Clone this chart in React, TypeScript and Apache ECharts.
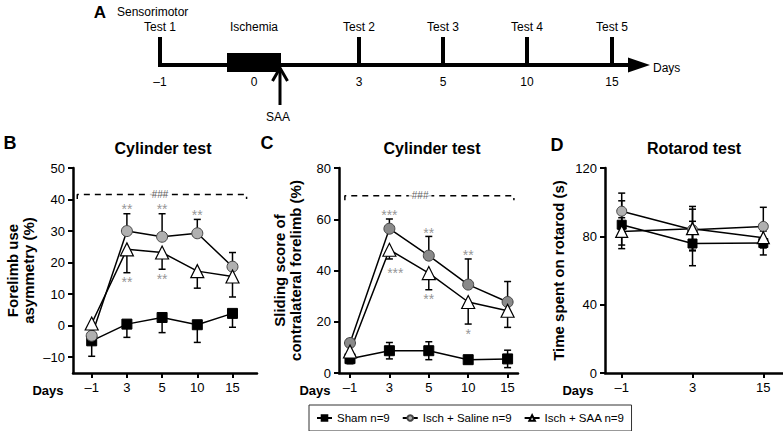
import React, { useEffect, useRef } from "react";
import * as echarts from "echarts";

// ---------- data ----------
const dayLabelsBC = ["\u20131", "3", "5", "10", "15"];
const dayLabelsD = ["\u20131", "3", "15"];
const legendNames = ["Sham n=9", "Isch + Saline n=9", "Isch + SAA n=9"];

// Panel B: forelimb use asymmetry (%)
const shamB = [-4.8, 0.5, 2.6, 0.3, 3.9];
const shamBErr = [4.9, 4.2, 4.8, 5.6, 4.4];
const salineB = [-3.2, 30.0, 28.2, 29.3, 18.7];
const salineBErr = [3, 5.5, 7.3, 4.4, 4.5];
const saaB = [0.7, 24.2, 23.2, 17.3, 15.6];
const saaBErr = [3, 7.4, 5.3, 5.4, 6.5];

// Panel C: sliding score of contralateral forelimb (%)
const shamC = [5.6, 8.7, 8.7, 5.2, 5.5];
const shamCErr = [2, 3.2, 3.5, 1.5, 3.4];
const salineC = [11.7, 56.3, 45.8, 34.5, 27.7];
const salineCErr = [1.5, 3.8, 7.5, 10, 8];
const saaC = [8.4, 48.1, 39, 27.7, 24.3];
const saaCErr = [2, 3.6, 6.5, 8.6, 6.5];

// Panel D: time spent on rotarod (s)
const shamD = [86.8, 75.8, 76.1];
const shamDErr = [14, 13, 7];
const salineD = [94.7, 83.9, 85.8];
const salineDErr = [10.6, 12, 11.2];
const saaD = [82.9, 84.5, 79.2];
const saaDErr = [8, 13, 6];

// significance marks [x index, y value, text]
const starsB: [number, number, string][] = [
  [1, 36.9, "**"], [2, 36.9, "**"], [3, 35.0, "**"],
  [1, 14.0, "**"], [2, 14.8, "**"],
];
const starsC: [number, number, string][] = [
  [1, 61.6, "***"], [1.15, 39.1, "***"],
  [2, 54.7, "**"], [2, 29.0, "**"],
  [3, 45.9, "**"], [3, 15.4, "*"],
];
const hashB = { x1: -0.41, x2: 4.4, y: 41.6, tick: 1.4, labelX: 1.94 };
const hashC = { x1: -0.13, x2: 4.16, y: 69.2, tick: 1.8, labelX: 1.78 };

// Timeline (panel A)
const timelineTests = ["Test 1", "Test 2", "Test 3", "Test 4", "Test 5"];
const timelineDays = ["\u20131", "0", "3", "5", "10", "15"];

const FONT = "'Liberation Sans', Arial, Helvetica, sans-serif";

function errRender(params: any, api: any) {
  const x = api.value(0);
  const from = api.value(1);
  const to = api.value(2);
  const p0 = api.coord([x, from]);
  const p1 = api.coord([x, to]);
  const cap = 3.5;
  const st = { stroke: "#000", lineWidth: 1.5 };
  return {
    type: "group",
    children: [
      { type: "line", shape: { x1: p0[0], y1: p0[1], x2: p1[0], y2: p1[1] }, style: st },
      { type: "line", shape: { x1: p1[0] - cap, y1: p1[1], x2: p1[0] + cap, y2: p1[1] }, style: st },
    ],
  };
}

function errSeries(means: number[], errs: number[], dir: string, gi: number) {
  const data: number[][] = [];
  means.forEach((m, i) => {
    if (dir === "up" || dir === "both") data.push([i, m, m + errs[i]]);
    if (dir === "down" || dir === "both") data.push([i, m, m - errs[i]]);
  });
  return {
    type: "custom",
    xAxisIndex: gi,
    yAxisIndex: gi,
    renderItem: errRender,
    data,
    encode: { x: 0, y: [1, 2] },
    z: 2,
    silent: true,
  };
}

function lineSeries(name: string, vals: number[], gi: number, kind: string, small = false) {
  const base: any = {
    type: "line",
    name,
    xAxisIndex: gi,
    yAxisIndex: gi,
    data: vals.map((v, i) => [i, v]),
    lineStyle: { color: "#000", width: 1.5 },
    z: 3,
    silent: true,
  };
  if (kind === "sham") {
    base.symbol = "rect";
    base.symbolSize = small ? 9 : 10;
    base.itemStyle = { color: "#000", borderColor: "#000", borderWidth: 1 };
  } else if (kind === "saline") {
    base.symbol = "circle";
    base.symbolSize = small ? 10 : 11;
    base.itemStyle = { color: gi === 1 ? "#8a8a8a" : "#b0b0b0", borderColor: "#444", borderWidth: 1 };
  } else {
    base.symbol = "triangle";
    base.symbolSize = small ? 12 : 13;
    base.itemStyle = { color: "#fff", borderColor: "#000", borderWidth: 1.2 };
  }
  return base;
}

function starSeries(stars: [number, number, string][], gi: number) {
  return {
    type: "scatter",
    xAxisIndex: gi,
    yAxisIndex: gi,
    symbolSize: 0,
    silent: true,
    z: 4,
    data: stars.map((s) => ({ value: [s[0], s[1]], name: s[2] })),
    label: { show: true, position: "inside", formatter: "{b}", color: "#7a7a7a", fontSize: 14, fontFamily: FONT },
  };
}

function hashSeries(h: any, gi: number) {
  return [
    {
      type: "line",
      xAxisIndex: gi,
      yAxisIndex: gi,
      symbol: "none",
      silent: true,
      z: 1,
      data: [[h.x1, h.y - h.tick], [h.x1, h.y], [h.x2, h.y], [h.x2, h.y - h.tick]],
      lineStyle: { color: "#000", width: 1.5, type: [6, 5] },
    },
    {
      type: "scatter",
      xAxisIndex: gi,
      yAxisIndex: gi,
      symbolSize: 0,
      silent: true,
      z: 5,
      data: [{ value: [h.labelX, h.y], name: "###" }],
      label: {
        show: true, position: "inside", formatter: "{b}", color: "#333", fontSize: 10,
        fontFamily: FONT, backgroundColor: "#fff", padding: [1, 3, 0, 3],
      },
    },
  ];
}

function mkX(gi: number, min: number, max: number, labels: string[]) {
  const vals = labels.map((_, i) => i);
  return {
    type: "value",
    gridIndex: gi,
    min,
    max,
    splitLine: { show: false },
    axisLine: { show: true, onZero: false, lineStyle: { color: "#000", width: 2.5 } },
    axisTick: { show: true, customValues: vals, length: 5, lineStyle: { color: "#000", width: 2 } },
    axisLabel: {
      customValues: vals,
      formatter: (v: number) => labels[Math.round(v)] ?? "",
      fontSize: 13, color: "#000", margin: 8, fontFamily: FONT,
    },
  };
}

function mkY(gi: number, min: number, max: number, ticks: number[], name: string, nameGap: number) {
  return {
    type: "value",
    gridIndex: gi,
    min,
    max,
    name,
    nameLocation: "middle",
    nameGap,
    nameRotate: 90,
    nameTextStyle: { fontSize: 15, fontWeight: "bold", color: "#000", lineHeight: 16, fontFamily: FONT },
    splitLine: { show: false },
    axisLine: { show: true, onZero: false, lineStyle: { color: "#000", width: 2.5 } },
    axisTick: { show: true, customValues: ticks, length: 5, lineStyle: { color: "#000", width: 2 } },
    axisLabel: {
      customValues: ticks,
      formatter: (v: number) => (v < 0 ? "\u2013" + Math.abs(v) : String(v)),
      fontSize: 13, color: "#000", margin: 8, fontFamily: FONT,
    },
  };
}

function txt(text: string, x: number, y: number, size: number, bold = false, align = "center") {
  return {
    type: "text",
    x,
    y,
    silent: true,
    style: {
      text, fill: "#000", fontSize: size, fontWeight: bold ? "bold" : "normal",
      fontFamily: FONT, align, verticalAlign: "middle",
    },
  };
}

function buildTimeline() {
  const lineY = 65;
  const tickX = [160, 359, 443, 527, 612];
  const dayX = [160, 254, 359, 443, 527, 612];
  const els: any[] = [];
  els.push(txt("A", 100, 12, 17, true));
  els.push(txt("Sensorimotor", 117, 12, 12, false, "left"));
  els.push({ type: "line", shape: { x1: 158, y1: lineY, x2: 632, y2: lineY }, style: { stroke: "#000", lineWidth: 4 } });
  els.push({ type: "polygon", shape: { points: [[628, 57.5], [650, lineY], [628, 72.5]] }, style: { fill: "#000" } });
  tickX.forEach((x, i) => {
    els.push({ type: "line", shape: { x1: x, y1: 37, x2: x, y2: lineY + 2 }, style: { stroke: "#000", lineWidth: 4 } });
    els.push(txt(timelineTests[i], x, 27, 12));
  });
  els.push({ type: "rect", shape: { x: 227, y: 53, width: 54, height: 19 }, style: { fill: "#000" } });
  els.push(txt("Ischemia", 254, 27, 12));
  timelineDays.forEach((d, i) => els.push(txt(d, dayX[i], 82, 12)));
  els.push(txt("Days", 653, 68, 12, false, "left"));
  els.push({ type: "line", shape: { x1: 280, y1: 68, x2: 280, y2: 105 }, style: { stroke: "#000", lineWidth: 3 } });
  els.push({ type: "polyline", shape: { points: [[272.5, 81], [280, 68], [287.5, 81]] }, style: { stroke: "#000", lineWidth: 3, fill: "none" } });
  els.push(txt("SAA", 278, 117, 12));
  return els;
}

export default function App() {
  const ref = useRef<HTMLDivElement>(null);
  useEffect(() => {
    if (!ref.current) return;
    const chart = echarts.init(ref.current, null, { renderer: "svg" });
    const graphic = [
      ...buildTimeline(),
      txt("B", 10, 143, 18, true),
      txt("C", 267, 143, 18, true),
      txt("D", 557, 145, 18, true),
      txt("Cylinder test", 163, 148, 16, true),
      txt("Cylinder test", 432, 148, 16, true),
      txt("Rotarod test", 694, 148, 16, true),
      txt("Days", 48, 390, 13, true),
      txt("Days", 315, 390, 13, true),
      txt("Days", 578, 390, 13, true),
    ];
    const option: any = {
      animation: false,
      textStyle: { fontFamily: FONT },
      grid: [
        { left: 73, top: 168, width: 184, height: 205 },
        { left: 339, top: 168, width: 179, height: 205 },
        { left: 605, top: 168, width: 178, height: 205 },
      ],
      xAxis: [
        mkX(0, -0.531, 4.696, dayLabelsBC),
        mkX(1, -0.279, 4.264, dayLabelsBC),
        mkX(2, -0.236, 2.278, dayLabelsD),
      ],
      yAxis: [
        mkY(0, -15, 50, [-10, 0, 10, 20, 30, 40, 50], "Forelimb use\nasymmetry (%)", 37),
        mkY(1, 0, 80, [0, 20, 40, 60, 80], "Sliding score of\ncontralateral forelimb (%)", 36),
        mkY(2, 0, 120, [0, 40, 80, 120], "Time spent on rotarod (s)", 39),
      ],
      legend: {
        data: legendNames,
        left: 309,
        top: 405,
        orient: "horizontal",
        borderColor: "#333",
        borderWidth: 1,
        padding: [7, 7, 7, 7],
        itemGap: 12,
        itemWidth: 15,
        itemHeight: 7,
        textStyle: { fontSize: 11.5, color: "#000", fontFamily: FONT },
      },
      graphic,
      series: [
        ...hashSeries(hashB, 0),
        ...hashSeries(hashC, 1),
        errSeries(shamB, shamBErr, "down", 0),
        errSeries(salineB, salineBErr, "up", 0),
        errSeries(saaB, saaBErr, "down", 0),
        errSeries(shamC, shamCErr, "both", 1),
        errSeries(salineC, salineCErr, "up", 1),
        errSeries(saaC, saaCErr, "down", 1),
        errSeries(shamD, shamDErr, "both", 2),
        errSeries(salineD, salineDErr, "both", 2),
        errSeries(saaD, saaDErr, "both", 2),
        lineSeries(legendNames[0], shamB, 0, "sham"),
        lineSeries(legendNames[1], salineB, 0, "saline"),
        lineSeries(legendNames[2], saaB, 0, "saa"),
        lineSeries(legendNames[0], shamC, 1, "sham"),
        lineSeries(legendNames[1], salineC, 1, "saline"),
        lineSeries(legendNames[2], saaC, 1, "saa"),
        lineSeries(legendNames[0], shamD, 2, "sham", true),
        lineSeries(legendNames[1], salineD, 2, "saline", true),
        lineSeries(legendNames[2], saaD, 2, "saa", true),
        starSeries(starsB, 0),
        starSeries(starsC, 1),
      ],
    };
    chart.setOption(option);
    return () => chart.dispose();
  }, []);
  return (
    <div
      ref={ref}
      style={{ position: "absolute", left: 0, top: 0, width: 783, height: 431, background: "#fff" }}
    />
  );
}
